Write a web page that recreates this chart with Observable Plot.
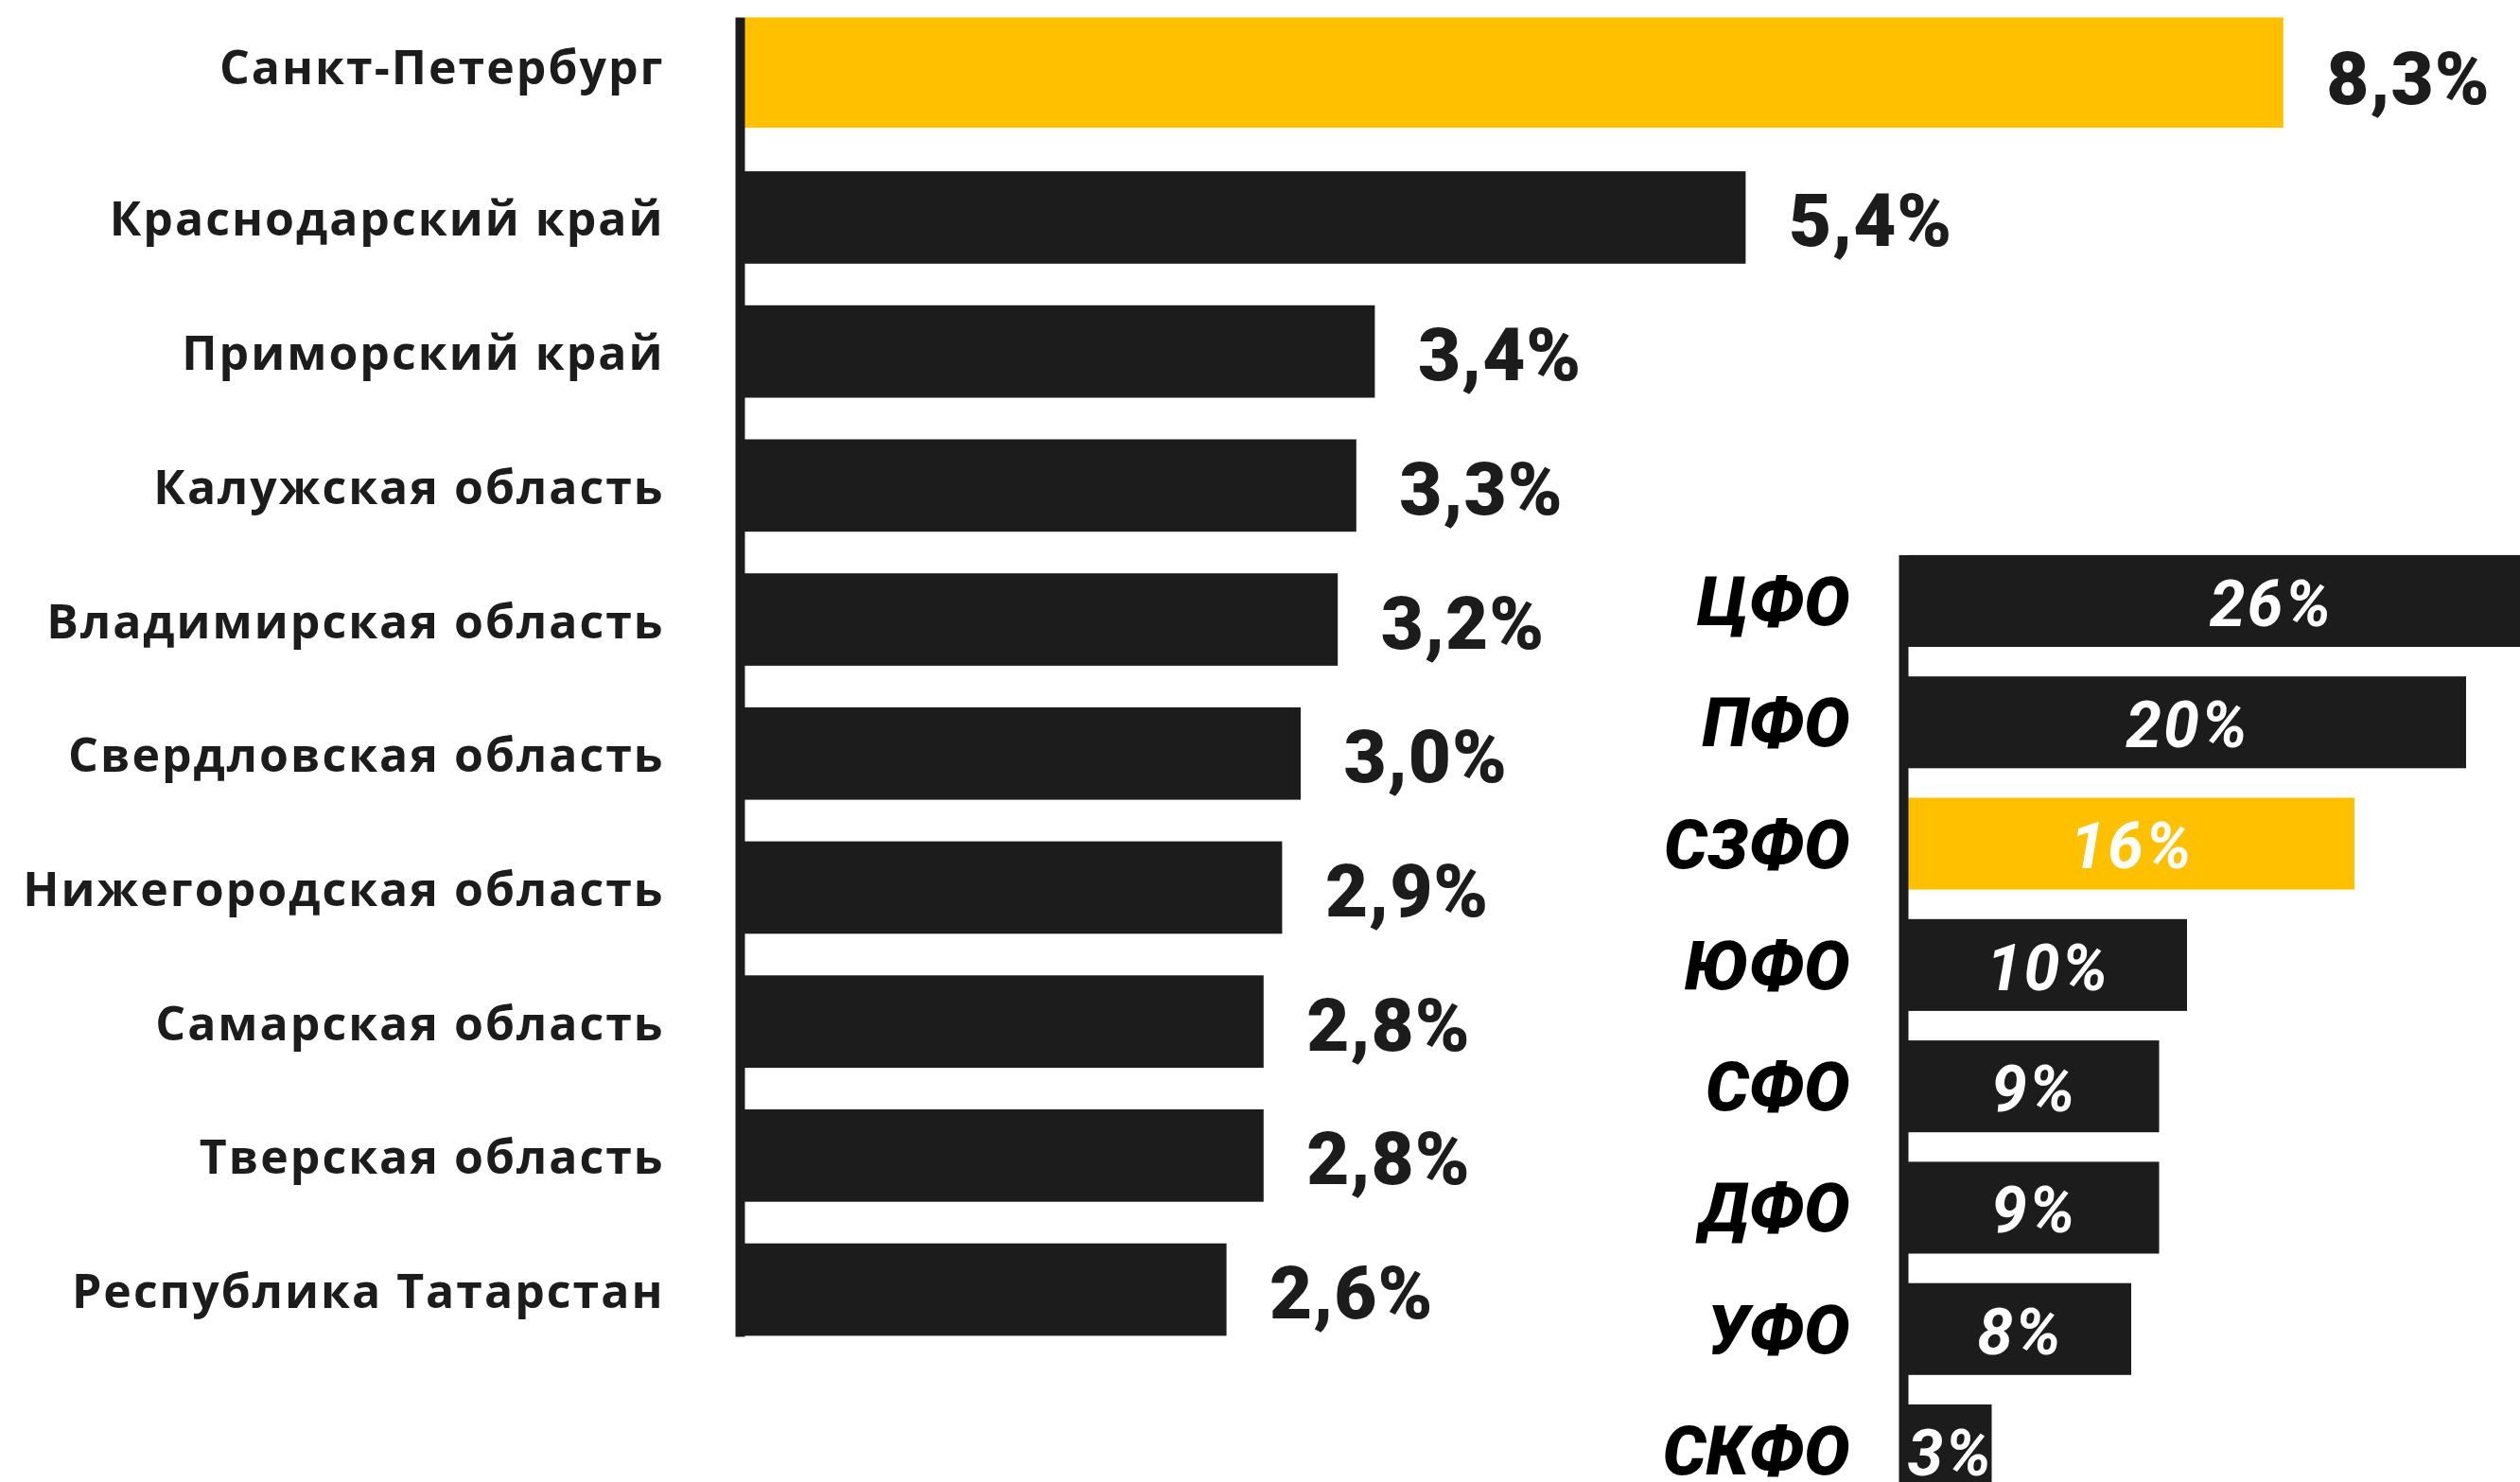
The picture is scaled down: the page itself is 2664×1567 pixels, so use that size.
<!DOCTYPE html>
<html>
<head>
<meta charset="utf-8">
<script src="https://cdn.jsdelivr.net/npm/d3@7"></script>
<script src="https://cdn.jsdelivr.net/npm/@observablehq/plot@0.6"></script>
<style>
  html, body { margin: 0; padding: 0; background: #ffffff; overflow: hidden; }
  #wrap { position: relative; width: 2664px; height: 1567px; overflow: hidden; background: #ffffff; }
  #left { position: absolute; left: 0; top: 0; width: 2664px; }
  #right { position: absolute; left: 1700px; top: 560px; width: 1100px; }
  svg { max-width: none !important; }
</style>
</head>
<body>
<div id="wrap"><div id="left"></div><div id="right"></div></div>
<script>
// ---- Data: regions (left chart) ----
const regions = [
  "Санкт-Петербург",
  "Краснодарский край",
  "Приморский край",
  "Калужская область",
  "Владимирская область",
  "Свердловская область",
  "Нижегородская область",
  "Самарская область",
  "Тверская область",
  "Республика Татарстан"
];
const regionShare = [8.3, 5.4, 3.4, 3.3, 3.2, 3.0, 2.9, 2.8, 2.8, 2.6];
const highlightRegion = "Санкт-Петербург";

// ---- Data: federal districts (right chart) ----
const districts = ["ЦФО", "ПФО", "СЗФО", "ЮФО", "СФО", "ДФО", "УФО", "СКФО"];
const districtShare = [26, 20, 16, 10, 9, 9, 8, 3];
const highlightDistrict = "СЗФО";

const DARK = "#1c1c1c";
const YELLOW = "#ffc000";

const fmtRegion = v => v.toFixed(1).replace(".", ",") + "%";
const fmtDistrict = v => v + "%";

const leftData = regions.map((name, i) => ({name, value: regionShare[i], hl: name === highlightRegion}));
const rightData = districts.map((name, i) => ({name, value: districtShare[i], hl: name === highlightDistrict}));

// ---- Left chart ----
const W = 2664, H = 1567;
const leftX0 = 787;
const pxPerPct = 196;
const leftMax = 9;
const leftTop = 17.4, leftBottom = 1434.4;

const leftLabelFont = {fontFamily: "'Open Sans', 'DejaVu Sans', sans-serif", fontSize: 50, fontWeight: 700};
const leftValueFont = {fontFamily: "Roboto, 'Open Sans', sans-serif", fontSize: 78, fontWeight: 900};

const left = Plot.plot({
  width: W,
  height: H,
  marginLeft: leftX0,
  marginRight: W - leftX0 - pxPerPct * leftMax,
  marginTop: leftTop,
  marginBottom: H - leftBottom,
  style: {background: "transparent", overflow: "visible", maxWidth: "none"},
  x: {domain: [0, leftMax], axis: null},
  y: {domain: regions, axis: null, padding: 0, round: false},
  marks: [
    Plot.barX(leftData.filter(d => !d.hl), {x: "value", y: "name", fill: DARK, insetTop: 22, insetBottom: 22}),
    Plot.barX(leftData.filter(d => d.hl), {x: "value", y: "name", fill: YELLOW, insetTop: 1, insetBottom: 24}),
    Plot.ruleX([0], {stroke: DARK, strokeWidth: 10, dx: -5, insetTop: 1, insetBottom: 21}),
    Plot.text(leftData.filter(d => !d.hl), {
      x: 0, y: "name", text: "name", textAnchor: "end", dx: -85, dy: 3,
      fill: DARK, ...leftLabelFont, className: "cat"
    }),
    Plot.text(leftData.filter(d => d.hl), {
      x: 0, y: "name", text: "name", textAnchor: "end", dx: -85, dy: -16,
      fill: DARK, ...leftLabelFont, className: "cat"
    }),
    Plot.text(leftData.filter(d => !d.hl), {
      x: "value", y: "name", text: d => fmtRegion(d.value), textAnchor: "start", dx: 45, dy: 5,
      fill: DARK, ...leftValueFont, className: "val"
    }),
    Plot.text(leftData.filter(d => d.hl), {
      x: "value", y: "name", text: d => fmtRegion(d.value), textAnchor: "start", dx: 45, dy: -4,
      fill: DARK, ...leftValueFont, className: "val"
    })
  ]
});
left.querySelectorAll(".cat text").forEach(t => t.style.letterSpacing = "2px");
left.querySelectorAll(".val text").forEach(t => t.style.letterSpacing = "1px");
document.getElementById("left").appendChild(left);

// ---- Right chart ----
const RW = 1100, RH = 1100;
const rightOffsetTop = 560;
const rightX0 = 2017 - 1700;
const rightPx = 29.5;
const rightMax = 26;
const rightTop = 571.3 - rightOffsetTop;
const rightStep = 128.3;
const rightBottom = rightTop + rightStep * districts.length;

const rightFont = {fontFamily: "Roboto, 'Open Sans', sans-serif", fontStyle: "italic"};

const right = Plot.plot({
  width: RW,
  height: RH,
  marginLeft: rightX0,
  marginRight: RW - rightX0 - rightPx * rightMax,
  marginTop: rightTop,
  marginBottom: RH - rightBottom,
  style: {background: "transparent", overflow: "visible", maxWidth: "none"},
  x: {domain: [0, rightMax], axis: null},
  y: {domain: districts, axis: null, padding: 0, round: false},
  marks: [
    Plot.barX(rightData, {x: "value", y: "name", fill: d => d.hl ? YELLOW : DARK, insetTop: 15.6, insetBottom: 15.6}),
    Plot.ruleX([0], {stroke: DARK, strokeWidth: 10, dx: -5, insetTop: 15.6, insetBottom: 0}),
    Plot.text(rightData, {
      x: 0, y: "name", text: "name", textAnchor: "end", dx: -62, dy: 2,
      fill: "#000000", fontSize: 72, fontWeight: 900, ...rightFont
    }),
    Plot.text(rightData, {
      x: d => d.value / 2, y: "name", text: d => fmtDistrict(d.value), textAnchor: "middle", dy: 4,
      fill: "#ffffff", fontSize: 68, fontWeight: 700, ...rightFont, className: "rval"
    })
  ]
});
right.querySelectorAll(".rval text").forEach(t => t.style.letterSpacing = "2px");
document.getElementById("right").appendChild(right);
</script>
</body>
</html>
